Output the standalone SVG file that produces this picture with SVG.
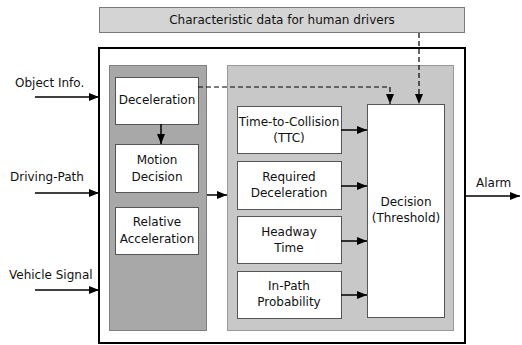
<svg xmlns="http://www.w3.org/2000/svg" width="522" height="345" viewBox="0 0 522 345">
<defs>
<marker id="ah" markerWidth="10" markerHeight="8" refX="10" refY="4" orient="auto" markerUnits="userSpaceOnUse">
<path d="M0,0 L10,4 L0,8 Z" fill="#000"/>
</marker>
<style>
text{font-family:"DejaVu Sans","Liberation Sans",sans-serif;font-size:12px;fill:#111;text-anchor:middle;dominant-baseline:central}
.lbl{text-anchor:start}
.box{fill:#fff;stroke:#555;stroke-width:1}
.ln{stroke:#000;stroke-width:1.5;fill:none;marker-end:url(#ah)}
.dash{stroke:#000;stroke-width:1.2;fill:none;stroke-dasharray:5,3;marker-end:url(#ah)}
</style>
</defs>
<rect width="522" height="345" fill="#fff"/>
<g id="banner">
<rect x="99.5" y="7.5" width="365" height="25" fill="#d4d4d4" stroke="#7a7a7a"/>
<text x="282" y="20">Characteristic data for human drivers</text>
</g>
<g id="system">
<rect x="99" y="48" width="366" height="295" fill="#fff" stroke="#000" stroke-width="2"/>
</g>
<g id="left-panel">
<rect x="109.5" y="65.5" width="97" height="265" fill="#a8a8a8" stroke="#808080"/>
</g>
<g id="right-panel">
<rect x="227.5" y="65.5" width="226" height="265" fill="#c8c8c8" stroke="#999"/>
</g>
<g id="deceleration">
<rect class="box" x="115.5" y="77.5" width="83" height="47"/>
<text x="157" y="100">Deceleration</text>
</g>
<g id="motion-decision">
<rect class="box" x="115.5" y="144.5" width="83" height="48"/>
<text x="157" y="160">Motion</text>
<text x="157" y="177">Decision</text>
</g>
<g id="relative-acceleration">
<rect class="box" x="115.5" y="207.5" width="83" height="47"/>
<text x="157" y="222">Relative</text>
<text x="157" y="239">Acceleration</text>
</g>
<g id="ttc">
<rect class="box" x="237.5" y="106.5" width="104" height="47"/>
<text x="289" y="122">Time-to-Collision</text>
<text x="289" y="138">(TTC)</text>
</g>
<g id="required-deceleration">
<rect class="box" x="237.5" y="161.5" width="104" height="48"/>
<text x="289" y="177">Required</text>
<text x="289" y="193">Deceleration</text>
</g>
<g id="headway-time">
<rect class="box" x="237.5" y="216.5" width="104" height="47"/>
<text x="289" y="232">Headway</text>
<text x="289" y="248">Time</text>
</g>
<g id="in-path-probability">
<rect class="box" x="237.5" y="271.5" width="104" height="47"/>
<text x="289" y="286">In-Path</text>
<text x="289" y="302">Probability</text>
</g>
<g id="decision-threshold">
<rect class="box" x="367.5" y="104.5" width="77" height="213"/>
<text x="406" y="202">Decision</text>
<text x="406" y="218">(Threshold)</text>
</g>
<g id="inputs">
<text class="lbl" x="15" y="83">Object Info.</text>
<text class="lbl" x="10" y="177">Driving-Path</text>
<text class="lbl" x="9" y="275">Vehicle Signal</text>
<text class="lbl" x="476" y="183">Alarm</text>
</g>
<g id="connectors">
<line class="ln" x1="35" y1="97" x2="99" y2="97"/>
<line class="ln" x1="35" y1="193" x2="99" y2="193"/>
<line class="ln" x1="35" y1="290" x2="99" y2="290"/>
<line class="ln" x1="161" y1="124" x2="161" y2="144"/>
<line class="ln" x1="207" y1="195" x2="227" y2="195"/>
<line class="ln" x1="341" y1="130" x2="367" y2="130"/>
<line class="ln" x1="341" y1="186" x2="367" y2="186"/>
<line class="ln" x1="341" y1="241" x2="367" y2="241"/>
<line class="ln" x1="341" y1="295" x2="367" y2="295"/>
<line class="ln" x1="465" y1="196" x2="520" y2="196"/>
<polyline class="dash" points="198,87 390,87 390,104"/>
<line class="dash" x1="419" y1="33" x2="419" y2="104"/>
</g>
</svg>
